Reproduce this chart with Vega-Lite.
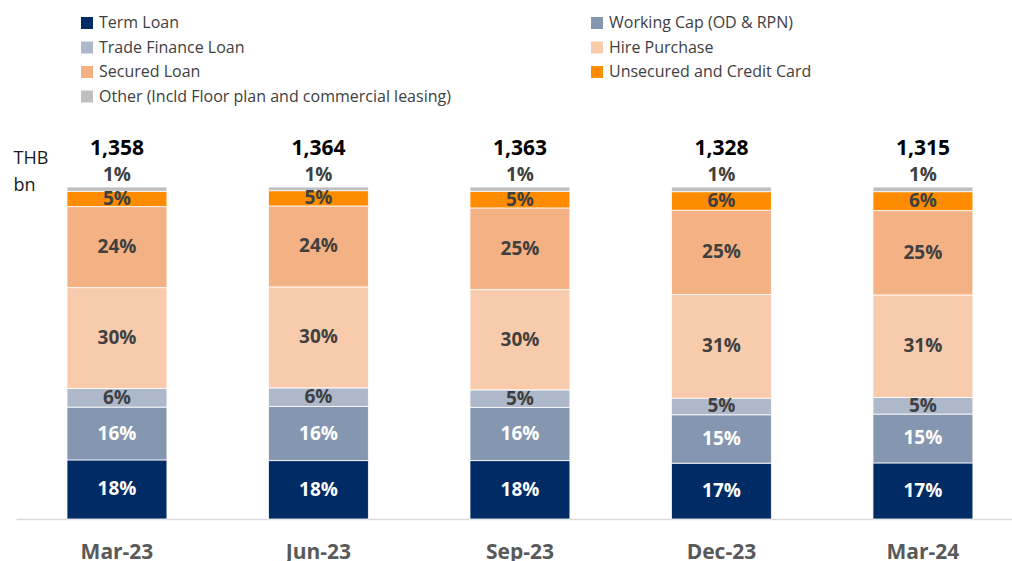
{
  "$schema": "https://vega.github.io/schema/vega-lite/v6.json",
  "width": 996,
  "height": 332,
  "autosize": {"type": "none"},
  "padding": {"left": 16, "top": 187, "right": 0, "bottom": 42},
  "background": "white",
  "config": {
    "view": {"stroke": null},
    "font": "Open Sans"
  },
  "datasets": {
    "shares": [
      {"period": "Mar-23", "category": "Term Loan", "share": 0.178},
      {"period": "Mar-23", "category": "Working Cap (OD & RPN)", "share": 0.159},
      {"period": "Mar-23", "category": "Trade Finance Loan", "share": 0.056},
      {"period": "Mar-23", "category": "Hire Purchase", "share": 0.304},
      {"period": "Mar-23", "category": "Secured Loan", "share": 0.244},
      {"period": "Mar-23", "category": "Unsecured and Credit Card", "share": 0.046},
      {"period": "Mar-23", "category": "Other (Incld Floor plan and commercial leasing)", "share": 0.013},
      {"period": "Jun-23", "category": "Term Loan", "share": 0.176},
      {"period": "Jun-23", "category": "Working Cap (OD & RPN)", "share": 0.163},
      {"period": "Jun-23", "category": "Trade Finance Loan", "share": 0.056},
      {"period": "Jun-23", "category": "Hire Purchase", "share": 0.304},
      {"period": "Jun-23", "category": "Secured Loan", "share": 0.244},
      {"period": "Jun-23", "category": "Unsecured and Credit Card", "share": 0.046},
      {"period": "Jun-23", "category": "Other (Incld Floor plan and commercial leasing)", "share": 0.011},
      {"period": "Sep-23", "category": "Term Loan", "share": 0.176},
      {"period": "Sep-23", "category": "Working Cap (OD & RPN)", "share": 0.160},
      {"period": "Sep-23", "category": "Trade Finance Loan", "share": 0.053},
      {"period": "Sep-23", "category": "Hire Purchase", "share": 0.302},
      {"period": "Sep-23", "category": "Secured Loan", "share": 0.246},
      {"period": "Sep-23", "category": "Unsecured and Credit Card", "share": 0.050},
      {"period": "Sep-23", "category": "Other (Incld Floor plan and commercial leasing)", "share": 0.013},
      {"period": "Dec-23", "category": "Term Loan", "share": 0.168},
      {"period": "Dec-23", "category": "Working Cap (OD & RPN)", "share": 0.146},
      {"period": "Dec-23", "category": "Trade Finance Loan", "share": 0.050},
      {"period": "Dec-23", "category": "Hire Purchase", "share": 0.312},
      {"period": "Dec-23", "category": "Secured Loan", "share": 0.254},
      {"period": "Dec-23", "category": "Unsecured and Credit Card", "share": 0.056},
      {"period": "Dec-23", "category": "Other (Incld Floor plan and commercial leasing)", "share": 0.014},
      {"period": "Mar-24", "category": "Term Loan", "share": 0.169},
      {"period": "Mar-24", "category": "Working Cap (OD & RPN)", "share": 0.147},
      {"period": "Mar-24", "category": "Trade Finance Loan", "share": 0.050},
      {"period": "Mar-24", "category": "Hire Purchase", "share": 0.309},
      {"period": "Mar-24", "category": "Secured Loan", "share": 0.254},
      {"period": "Mar-24", "category": "Unsecured and Credit Card", "share": 0.057},
      {"period": "Mar-24", "category": "Other (Incld Floor plan and commercial leasing)", "share": 0.014}
    ],
    "totals": [
      {"period": "Mar-23", "total": 1358},
      {"period": "Jun-23", "total": 1364},
      {"period": "Sep-23", "total": 1363},
      {"period": "Dec-23", "total": 1328},
      {"period": "Mar-24", "total": 1315}
    ]
  },
  "encoding": {
    "x": {
      "field": "period",
      "type": "nominal",
      "sort": ["Mar-23", "Jun-23", "Sep-23", "Dec-23", "Mar-24"],
      "scale": {"paddingInner": 0.504, "paddingOuter": 0.2236, "align": 0.566},
      "axis": {
        "title": null,
        "labelAngle": 0,
        "labelFont": "Open Sans",
        "labelFontSize": 21,
        "labelFontWeight": "bold",
        "labelColor": "#595959",
        "labelPadding": 22,
        "ticks": false,
        "domainColor": "#d9d9d9",
        "domainWidth": 1.5,
        "grid": false
      }
    }
  },
  "layer": [
    {
      "data": {"name": "shares"},
      "transform": [
        {"calculate": "indexof(['Term Loan', 'Working Cap (OD & RPN)', 'Trade Finance Loan', 'Hire Purchase', 'Secured Loan', 'Unsecured and Credit Card', 'Other (Incld Floor plan and commercial leasing)'], datum.category)", "as": "ord"}
      ],
      "mark": {"type": "bar", "stroke": "white", "strokeWidth": 0.8},
      "encoding": {
        "y": {
          "field": "share",
          "type": "quantitative",
          "stack": "zero",
          "scale": {"domain": [0, 1], "nice": false, "zero": true},
          "axis": {
            "title": ["THB", "bn"],
            "titleAngle": 0,
            "titleAlign": "left",
            "titleBaseline": "alphabetic",
            "titleX": -3,
            "titleY": -24,
            "titleFont": "Open Sans",
            "titleFontSize": 18,
            "titleFontWeight": "normal",
            "titleColor": "#1a1a1a",
            "titleLineHeight": 27,
            "labels": false,
            "ticks": false,
            "domain": false,
            "grid": false
          }
        },
        "color": {
          "field": "category",
          "type": "nominal",
          "scale": {
            "domain": ["Term Loan", "Working Cap (OD & RPN)", "Trade Finance Loan", "Hire Purchase", "Secured Loan", "Unsecured and Credit Card", "Other (Incld Floor plan and commercial leasing)"],
            "range": ["#002B65", "#8496B0", "#ADB9CA", "#F8CBAD", "#F4B183", "#FF8C00", "#BFBFBF"]
          },
          "legend": {
            "title": null,
            "orient": "none",
            "legendX": 63,
            "legendY": -172,
            "direction": "horizontal",
            "columns": 2,
            "columnPadding": 138,
            "rowPadding": 8.5,
            "padding": 0,
            "symbolType": "square",
            "symbolSize": 144,
            "symbolStrokeWidth": 0,
            "labelOffset": 4,
            "labelFont": "Open Sans",
            "labelFontSize": 16,
            "labelColor": "#404040",
            "labelLimit": 500
          }
        },
        "order": {"field": "ord", "type": "quantitative"}
      }
    },
    {
      "data": {"name": "shares"},
      "transform": [
        {"filter": "datum.category !== 'Other (Incld Floor plan and commercial leasing)'"},
        {"calculate": "indexof(['Term Loan', 'Working Cap (OD & RPN)', 'Trade Finance Loan', 'Hire Purchase', 'Secured Loan', 'Unsecured and Credit Card', 'Other (Incld Floor plan and commercial leasing)'], datum.category)", "as": "ord"}
      ],
      "mark": {"type": "text", "font": "Open Sans", "fontSize": 19, "fontWeight": "bold", "baseline": "middle", "align": "center"},
      "encoding": {
        "y": {"field": "share", "type": "quantitative", "stack": "zero", "bandPosition": 0.5},
        "detail": {"field": "category", "type": "nominal"},
        "order": {"field": "ord", "type": "quantitative"},
        "text": {"field": "share", "type": "quantitative", "format": ".0%"},
        "color": {
          "condition": {"test": "datum.category === 'Term Loan' || datum.category === 'Working Cap (OD & RPN)'", "value": "white"},
          "value": "#404040"
        }
      }
    },
    {
      "data": {"name": "shares"},
      "transform": [{"filter": "datum.category === 'Other (Incld Floor plan and commercial leasing)'"}],
      "mark": {"type": "text", "font": "Open Sans", "fontSize": 19, "fontWeight": "bold", "baseline": "middle", "align": "center", "dy": -12, "color": "#404040"},
      "encoding": {
        "y": {"datum": 1},
        "text": {"field": "share", "type": "quantitative", "format": ".0%"}
      }
    },
    {
      "data": {"name": "totals"},
      "mark": {"type": "text", "font": "Open Sans", "fontSize": 21, "fontWeight": "bold", "baseline": "middle", "align": "center", "dy": -38, "color": "#000000"},
      "encoding": {
        "y": {"datum": 1},
        "text": {"field": "total", "type": "quantitative", "format": ","}
      }
    }
  ]
}
